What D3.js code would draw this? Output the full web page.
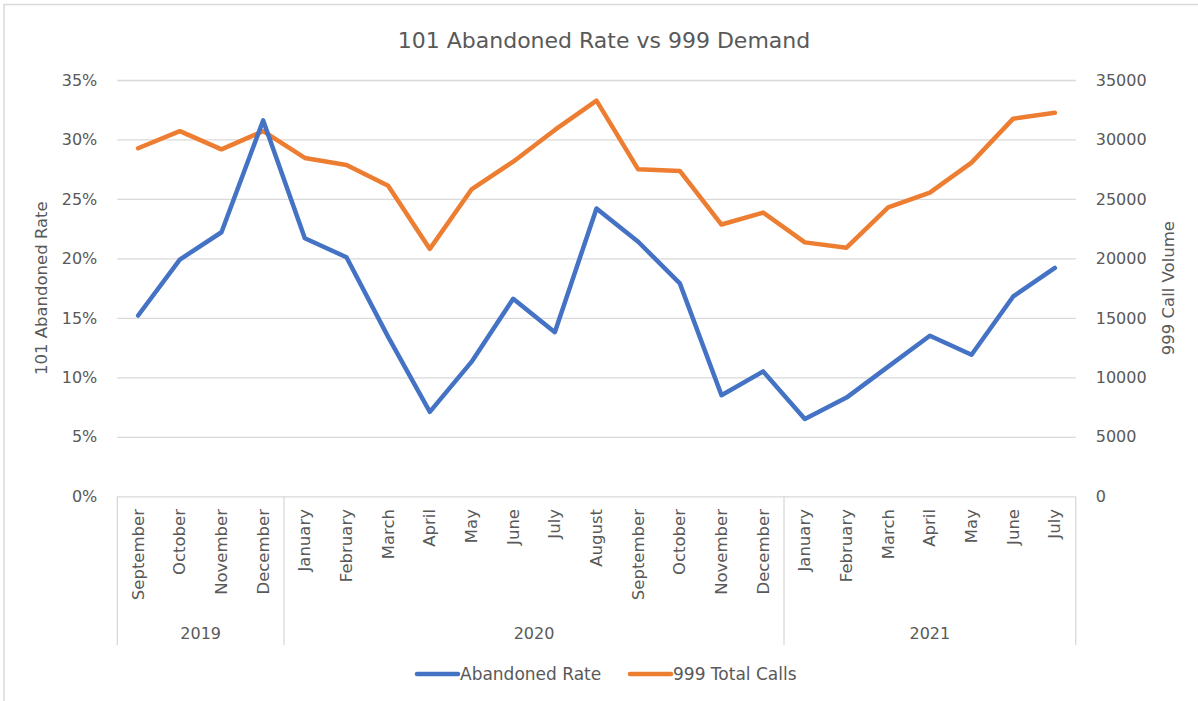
<!DOCTYPE html>
<html lang="en">

<head>
    <meta charset="UTF-8">
    <title>101 Abandoned Rate vs 999 Demand</title>
    <style>
        * {
            margin: 0;
            padding: 0;
        }

        body {
            background: #fff;
            font-family: 'DejaVu Sans', sans-serif;
        }
    </style>
</head>

<body>
    <div id="chart"></div>
    <script src="https://cdn.jsdelivr.net/npm/d3@7"></script>
    <script>
        // data
        const months = ['September', 'October', 'November', 'December',
            'January', 'February', 'March', 'April', 'May', 'June', 'July', 'August',
            'September', 'October', 'November', 'December',
            'January', 'February', 'March', 'April', 'May', 'June', 'July']
        const years = ['2019', '2019', '2019', '2019',
            '2020', '2020', '2020', '2020', '2020', '2020', '2020', '2020', '2020', '2020', '2020', '2020',
            '2021', '2021', '2021', '2021', '2021', '2021', '2021']
        const abandonedRate = [0.152, 0.199, 0.222, 0.316,
            0.217, 0.201, 0.134, 0.071, 0.113, 0.166, 0.138, 0.242, 0.214, 0.179, 0.085, 0.105,
            0.065, 0.083, 0.109, 0.135, 0.119, 0.168, 0.192]
        const totalCalls = [29260, 30700, 29170, 30700,
            28450, 27850, 26100, 20800, 25800, 28130, 30800, 33260, 27490, 27350, 22850, 23850,
            21350, 20900, 24300, 25530, 28050, 31750, 32250]
        const leftTicks = [0, 0.05, 0.1, 0.15, 0.2, 0.25, 0.3, 0.35]
        const rightTicks = [0, 5000, 10000, 15000, 20000, 25000, 30000, 35000]

        const width = 1198
        const height = 701
        const plot = { left: 117.3, right: 1075.7, top: 80, bottom: 496.3 }
        const textColor = '#595959'
        const gridColor = '#d9d9d9'
        const blue = '#4472C4'
        const orange = '#ED7D31'

        const svg = d3.select('#chart')
            .append('svg')
            .attr('width', width)
            .attr('height', height)
            .style('display', 'block')

        // chart border (only left + top show in the picture)
        svg.append('path')
            .attr('d', `M4,${height} V4.5 H${width}`)
            .attr('fill', 'none')
            .attr('stroke', gridColor)
            .attr('stroke-width', 1.5)

        const x = d3.scaleBand()
            .domain(d3.range(months.length))
            .range([plot.left, plot.right])
        const cx = i => x(i) + x.bandwidth() / 2

        const yLeft = d3.scaleLinear().domain([0, 0.35]).range([plot.bottom, plot.top])
        const yRight = d3.scaleLinear().domain([0, 35000]).range([plot.bottom, plot.top])

        // gridlines
        svg.append('g')
            .attr('transform', `translate(${plot.left},0)`)
            .call(d3.axisLeft(yLeft).tickValues(leftTicks).tickSize(-(plot.right - plot.left)).tickFormat(''))
            .call(g => g.select('.domain').remove())
            .call(g => g.selectAll('line').attr('stroke', gridColor).attr('stroke-width', 1.3))

        // left axis
        svg.append('g')
            .attr('transform', `translate(${plot.left},0)`)
            .call(d3.axisLeft(yLeft).tickValues(leftTicks).tickSize(0).tickPadding(20).tickFormat(d3.format('.0%')))
            .call(g => g.select('.domain').remove())
            .call(g => g.selectAll('text')
                .attr('fill', textColor)
                .style('font-family', 'DejaVu Sans')
                .style('font-size', '16px'))

        // right axis
        svg.append('g')
            .attr('transform', `translate(${plot.right},0)`)
            .call(d3.axisRight(yRight).tickValues(rightTicks).tickSize(0).tickPadding(20).tickFormat(d3.format('d')))
            .call(g => g.select('.domain').remove())
            .call(g => g.selectAll('text')
                .attr('fill', textColor)
                .style('font-family', 'DejaVu Sans')
                .style('font-size', '16px'))

        // category axis: month labels, year groups and separators
        const catGroup = svg.append('g')

        catGroup.selectAll('text.month')
            .data(months)
            .join('text')
            .attr('class', 'month')
            .attr('transform', (d, i) => `translate(${cx(i)}, 509) rotate(-90)`)
            .attr('text-anchor', 'end')
            .attr('dominant-baseline', 'central')
            .attr('fill', textColor)
            .style('font-size', '16.5px')
            .text(d => d)

        const yearGroups = d3.groups(d3.range(years.length), i => years[i])
            .map(([year, idx]) => ({ year, start: idx[0], end: idx[idx.length - 1] }))

        const sepX = yearGroups.map(g => x(g.start)).concat([plot.right])
        catGroup.selectAll('line.sep')
            .data(sepX)
            .join('line')
            .attr('class', 'sep')
            .attr('x1', d => d)
            .attr('x2', d => d)
            .attr('y1', plot.bottom)
            .attr('y2', 645)
            .attr('stroke', gridColor)
            .attr('stroke-width', 1.3)

        catGroup.selectAll('text.year')
            .data(yearGroups)
            .join('text')
            .attr('class', 'year')
            .attr('x', d => (x(d.start) + x(d.end) + x.bandwidth()) / 2)
            .attr('y', 633)
            .attr('text-anchor', 'middle')
            .attr('dominant-baseline', 'central')
            .attr('fill', textColor)
            .style('font-size', '16px')
            .text(d => d.year)

        // lines
        const rateLine = d3.line()
            .x((d, i) => cx(i))
            .y(d => yLeft(d))
        const callsLine = d3.line()
            .x((d, i) => cx(i))
            .y(d => yRight(d))

        svg.append('path')
            .datum(totalCalls)
            .attr('d', callsLine)
            .attr('fill', 'none')
            .attr('stroke', orange)
            .attr('stroke-width', 4.5)
            .attr('stroke-linejoin', 'round')
            .attr('stroke-linecap', 'round')

        svg.append('path')
            .datum(abandonedRate)
            .attr('d', rateLine)
            .attr('fill', 'none')
            .attr('stroke', blue)
            .attr('stroke-width', 4.5)
            .attr('stroke-linejoin', 'round')
            .attr('stroke-linecap', 'round')

        // title
        svg.append('text')
            .attr('x', 604)
            .attr('y', 48)
            .attr('text-anchor', 'middle')
            .attr('fill', textColor)
            .style('font-size', '22px')
            .text('101 Abandoned Rate vs 999 Demand')

        // axis titles
        svg.append('text')
            .attr('transform', `translate(41, ${(plot.top + plot.bottom) / 2}) rotate(-90)`)
            .attr('text-anchor', 'middle')
            .attr('dominant-baseline', 'central')
            .attr('fill', textColor)
            .style('font-size', '16.5px')
            .text('101 Abandoned Rate')

        svg.append('text')
            .attr('transform', `translate(1168, ${(plot.top + plot.bottom) / 2}) rotate(-90)`)
            .attr('text-anchor', 'middle')
            .attr('dominant-baseline', 'central')
            .attr('fill', textColor)
            .style('font-size', '16.5px')
            .text('999 Call Volume')

        // legend
        const legendItems = [
            { name: 'Abandoned Rate', color: blue, x: 417 },
            { name: '999 Total Calls', color: orange, x: 630 }
        ]
        const legend = svg.append('g').attr('transform', 'translate(0, 674)')
        legend.selectAll('line')
            .data(legendItems)
            .join('line')
            .attr('x1', d => d.x)
            .attr('x2', d => d.x + 41)
            .attr('stroke', d => d.color)
            .attr('stroke-width', 4.5)
            .attr('stroke-linecap', 'round')
        legend.selectAll('text')
            .data(legendItems)
            .join('text')
            .attr('x', d => d.x + 43)
            .attr('dominant-baseline', 'central')
            .attr('fill', textColor)
            .style('font-size', '17px')
            .text(d => d.name)
    </script>
</body>

</html>
